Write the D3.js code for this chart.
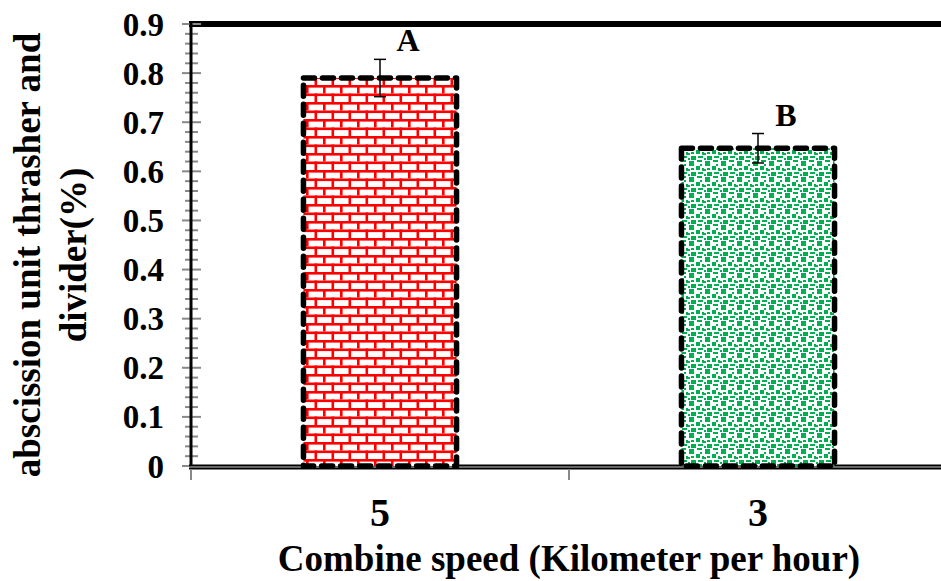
<!DOCTYPE html>
<html>
<head>
<meta charset="utf-8">
<script src="https://cdn.jsdelivr.net/npm/d3@7"></script>
<style>
  body { margin: 0; background: #fff; }
  text { font-family: "Liberation Serif", "Times New Roman", serif; font-weight: bold; fill: #000; }
</style>
</head>
<body>
<svg class="main" width="941" height="581"></svg>
<script>
(function () {
  'use strict';

  // chart data
  const speeds = ["5", "3"];
  const values = [0.79, 0.647];
  const errors = [0.038, 0.03];
  const letters = ["A", "B"];
  const yTicks = [0, 0.1, 0.2, 0.3, 0.4, 0.5, 0.6, 0.7, 0.8, 0.9];
  const yTitle = ["abscission unit thrasher and", "divider(%)"];
  const xTitle = "Combine speed (Kilometer per hour)";

  const svg = d3.select("svg.main");

  const x = d3.scaleBand()
    .domain(speeds)
    .range([191, 947])
    .paddingInner(0.595)
    .paddingOuter(0.2975);

  const y = d3.scaleLinear().domain([0, 0.9]).range([466, 24]);

  // fill patterns
  const defs = svg.append("defs");
  const brick = defs.append("pattern")
    .attr("id", "brick")
    .attr("patternUnits", "userSpaceOnUse")
    .attr("width", 17).attr("height", 17);
  brick.append("rect").attr("width", 17).attr("height", 17).attr("fill", "#fff");
  const red = "#ff0000";
  brick.append("rect").attr("x", 0).attr("y", 0).attr("width", 17).attr("height", 2.6).attr("fill", red);
  brick.append("rect").attr("x", 0).attr("y", 8.5).attr("width", 17).attr("height", 2.6).attr("fill", red);
  brick.append("rect").attr("x", 0).attr("y", 0).attr("width", 2.6).attr("height", 8.5).attr("fill", red);
  brick.append("rect").attr("x", 8.5).attr("y", 8.5).attr("width", 2.6).attr("height", 8.5).attr("fill", red);

  const confetti = defs.append("pattern")
    .attr("id", "confetti")
    .attr("patternUnits", "userSpaceOnUse")
    .attr("width", 16).attr("height", 16);
  confetti.append("rect").attr("width", 16).attr("height", 16).attr("fill", "#fff");
  const green = "#00b050";
  [
    [1, 1, 5, 5], [9, 0, 5, 2], [12, 4, 2, 2], [8, 6, 4, 4],
    [0, 9, 2, 2], [3, 8, 3, 2], [3, 12, 5, 4], [10, 12, 5, 2],
    [14, 8, 2, 3], [0, 14, 2, 2]
  ].forEach(r => {
    confetti.append("rect")
      .attr("x", r[0]).attr("y", r[1])
      .attr("width", r[2]).attr("height", r[3])
      .attr("fill", green);
  });
  const fills = ["url(#brick)", "url(#confetti)"];

  // top frame line
  svg.append("line")
    .attr("x1", 189).attr("x2", 941)
    .attr("y1", y(0.9)).attr("y2", y(0.9))
    .attr("stroke", "#000").attr("stroke-width", 6);

  // y axis minor/major ticks
  const isMajor = d => yTicks.some(t => Math.abs(t - d) < 1e-6);
  const minor = d3.range(0, 0.9001, 0.02);
  svg.append("g").selectAll("line")
    .data(minor)
    .join("line")
    .attr("x1", d => isMajor(d) ? 182 : 185)
    .attr("x2", d => isMajor(d) ? 201 : 198)
    .attr("y1", d => y(d)).attr("y2", d => y(d))
    .attr("stroke", "#888").attr("stroke-width", 2);

  svg.append("line")
    .attr("x1", 191).attr("x2", 191)
    .attr("y1", y(0.9) - 2).attr("y2", y(0))
    .attr("stroke", "#000").attr("stroke-width", 3);

  svg.append("g").selectAll("text")
    .data(yTicks)
    .join("text")
    .attr("x", 164)
    .attr("y", d => y(d))
    .attr("dy", "0.35em")
    .attr("text-anchor", "end")
    .style("font-size", "33px")
    .text(d => d === 0 ? "0" : d3.format(".1f")(d));

  // x axis
  svg.append("line")
    .attr("x1", 189).attr("x2", 941)
    .attr("y1", y(0) + 1).attr("y2", y(0) + 1)
    .attr("stroke", "#000").attr("stroke-width", 5);
  svg.append("line")
    .attr("x1", 189).attr("x2", 941)
    .attr("y1", y(0) + 1).attr("y2", y(0) + 1)
    .attr("stroke", "#888").attr("stroke-width", 1.5);
  const boundaries = [x.range()[0], x.range()[0] + x.step()];
  svg.append("g").selectAll("line")
    .data(boundaries)
    .join("line")
    .attr("x1", d => d).attr("x2", d => d)
    .attr("y1", y(0) + 3).attr("y2", y(0) + 14)
    .attr("stroke", "#888").attr("stroke-width", 2);

  svg.append("g").selectAll("text")
    .data(speeds)
    .join("text")
    .attr("x", d => x(d) + x.bandwidth() / 2)
    .attr("y", 526)
    .attr("text-anchor", "middle")
    .style("font-size", "40px")
    .text(d => d);

  // bars
  svg.append("g").selectAll("rect")
    .data(speeds)
    .join("rect")
    .attr("x", d => x(d))
    .attr("y", (d, i) => y(values[i]))
    .attr("width", x.bandwidth())
    .attr("height", (d, i) => y(0) - y(values[i]))
    .attr("fill", (d, i) => fills[i])
    .attr("stroke", "#000")
    .attr("stroke-width", 5.5)
    .attr("stroke-dasharray", "11,8")
    .attr("stroke-linecap", "round")
    .attr("stroke-linejoin", "round");

  // error bars
  const eb = svg.append("g").attr("stroke", "#000").attr("stroke-width", 1.5);
  speeds.forEach((s, i) => {
    const cx = x(s) + x.bandwidth() / 2;
    eb.append("line").attr("x1", cx).attr("x2", cx)
      .attr("y1", y(values[i] + errors[i])).attr("y2", y(values[i] - errors[i]));
    [values[i] + errors[i], values[i] - errors[i]].forEach(v => {
      eb.append("line").attr("x1", cx - 6).attr("x2", cx + 6)
        .attr("y1", y(v)).attr("y2", y(v));
    });
  });

  // significance letters
  svg.append("g").selectAll("text")
    .data(speeds)
    .join("text")
    .attr("x", d => x(d) + x.bandwidth() / 2 + 28)
    .attr("y", (d, i) => y(values[i] + errors[i]) - 8)
    .attr("text-anchor", "middle")
    .style("font-size", "32px")
    .text((d, i) => letters[i]);

  // axis titles
  svg.append("text")
    .attr("x", 569)
    .attr("y", 571)
    .attr("text-anchor", "middle")
    .style("font-size", "37px")
    .text(xTitle);

  svg.append("g")
    .attr("transform", "translate(0, 255) rotate(-90)")
    .selectAll("text")
    .data(yTitle)
    .join("text")
    .attr("x", 0)
    .attr("y", (d, i) => 40 + i * 46)
    .attr("text-anchor", "middle")
    .style("font-size", "37px")
    .text(d => d);
}());
</script>
</body>
</html>
